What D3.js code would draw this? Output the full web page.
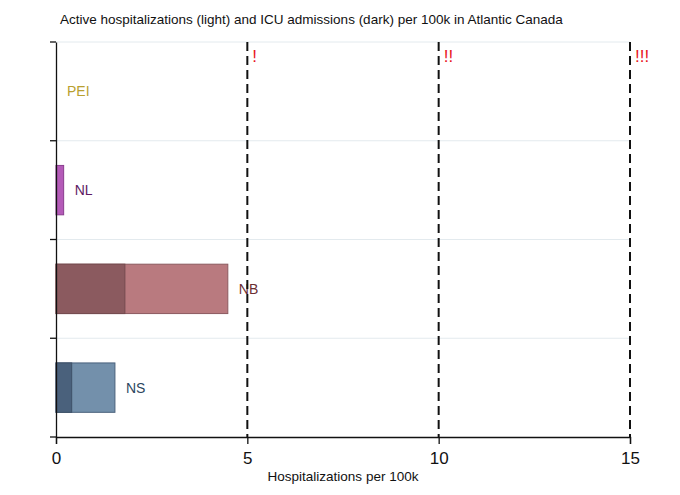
<!DOCTYPE html>
<html><head><meta charset="utf-8">
<script src="https://cdn.jsdelivr.net/npm/d3@7"></script>
<style>body{margin:0;background:#fff;font-family:"Liberation Sans",Arial,sans-serif;}</style>
</head><body>
<svg id="c" width="680" height="495"></svg>
<script>
const provinces = ["PEI","NL","NB","NS"];
const hospitalizations = [0, 0.2, 4.49, 1.54];
const icu = [0, 0, 1.8, 0.41];
const thresholds = [5, 10, 15];
const thresholdLabels = ["!", "!!", "!!!"];
const xTicks = [0, 5, 10, 15];
const lightColors = ["#d8c26a", "#b45ab8", "#b97a7f", "#7390ab"];
const darkColors = ["#b09a40", "#8a3d8e", "#8b5a5f", "#4a617c"];
const labelColors = ["#b8a030", "#5e1a62", "#6b2f33", "#2c4660"];

const svg = d3.select("#c");
const m = {l:56, r:50, t:42, b:58};
const W = 680, H = 495;
const x = d3.scaleLinear().domain([0,15]).range([m.l, W - m.r]);
const y = d3.scaleBand().domain(provinces).range([m.t, H - m.b]).paddingInner(0.5).paddingOuter(0.25);
const yb = d3.scaleBand().domain(provinces).range([m.t, H - m.b]);

// grid lines
svg.append("g").selectAll("line").data(provinces.slice(1).concat(["top"])).join("line")
  .attr("x1", m.l).attr("x2", W - m.r)
  .attr("y1", d => d === "top" ? m.t : yb(d)).attr("y2", d => d === "top" ? m.t : yb(d))
  .attr("stroke", "#e3eaee").attr("stroke-width", 1);

// bars
const g = svg.append("g");
provinces.forEach((p, i) => {
  if (hospitalizations[i] > 0) {
    g.append("rect").attr("x", x(0)).attr("y", y(p)).attr("width", x(hospitalizations[i]) - x(0)).attr("height", y.bandwidth())
      .attr("fill", lightColors[i]).attr("stroke", darkColors[i]).attr("stroke-width", 1);
  }
  if (icu[i] > 0) {
    g.append("rect").attr("x", x(0)).attr("y", y(p)).attr("width", x(icu[i]) - x(0)).attr("height", y.bandwidth())
      .attr("fill", darkColors[i]).attr("stroke", d3.color(darkColors[i]).darker(0.5)).attr("stroke-width", 1);
  }
  g.append("text").attr("x", x(hospitalizations[i]) + 11).attr("y", y(p) + y.bandwidth()/2 + 5)
    .attr("fill", labelColors[i]).attr("font-size", 14).text(p);
});

// threshold lines
svg.append("g").selectAll("line").data(thresholds).join("line")
  .attr("x1", d => x(d)).attr("x2", d => x(d)).attr("y1", m.t).attr("y2", H - m.b)
  .attr("stroke", "#111").attr("stroke-width", 2).attr("stroke-dasharray", "9,5");
svg.append("g").selectAll("text").data(thresholds).join("text")
  .attr("x", d => x(d) + 5).attr("y", m.t + 20)
  .attr("fill", "#e8141c").attr("font-size", 17).text((d,i) => thresholdLabels[i]);

// x axis
const xa = svg.append("g").attr("transform", `translate(0,${H - m.b})`)
  .call(d3.axisBottom(x).tickValues(xTicks).tickSize(7).tickPadding(8));
xa.select(".domain").attr("stroke", "#111").attr("stroke-width", 1.3);
xa.selectAll(".tick line").attr("stroke", "#111").attr("stroke-width", 1.3);
xa.selectAll("text").attr("font-size", 17).attr("fill", "#111").attr("font-family", "Liberation Sans, Arial, sans-serif");

// y axis
const ya = svg.append("g").attr("transform", `translate(${m.l},0)`)
  .call(d3.axisLeft(yb).tickValues([]).tickSizeOuter(0));
ya.select(".domain").attr("stroke", "#111").attr("stroke-width", 1.3);
ya.selectAll("line.yt").data(provinces.concat(["end"])).join("line").attr("class","yt")
  .attr("x1", -6).attr("x2", 0)
  .attr("y1", d => d === "end" ? H - m.b : yb(d)).attr("y2", d => d === "end" ? H - m.b : yb(d))
  .attr("stroke", "#111").attr("stroke-width", 1.3);

// titles
svg.append("text").attr("x", 60).attr("y", 24).attr("font-size", 13.5).attr("fill", "#111")
  .text("Active hospitalizations (light) and ICU admissions (dark) per 100k in Atlantic Canada");
svg.append("text").attr("x", (x(0)+x(15))/2).attr("y", 481).attr("text-anchor", "middle")
  .attr("font-size", 13.5).attr("fill", "#111").text("Hospitalizations per 100k");
</script>
</body></html>
